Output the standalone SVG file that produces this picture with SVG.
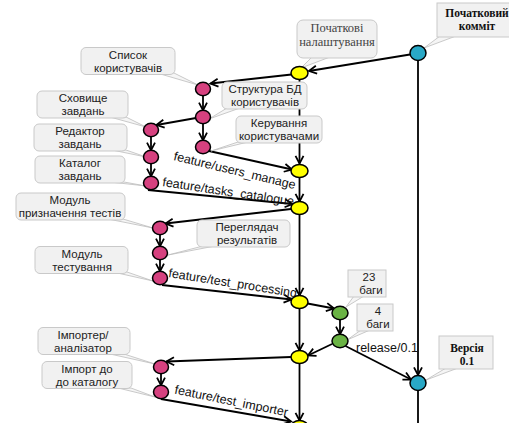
<svg xmlns="http://www.w3.org/2000/svg" width="509" height="423" viewBox="0 0 509 423">
<style>
.e{fill:none;stroke:#000;stroke-width:1.8}
.box{fill:#f1f1f1;stroke:#c9c9c9;stroke-width:1}
.lead{fill:#f5f5f5;stroke:#bcbcbc;stroke-width:0.8}
.t{font-family:"Liberation Sans",Arial,sans-serif;font-size:11.5px;fill:#222;text-anchor:middle}
.ts{font-family:"Liberation Serif","Times New Roman",serif;font-size:12.5px;fill:#444;text-anchor:middle}
.tb{font-family:"Liberation Serif","Times New Roman",serif;font-size:11.5px;font-weight:bold;fill:#111;text-anchor:middle}
.lbl{font-family:"Liberation Sans",Arial,sans-serif;font-size:12.5px;fill:#111}
.y{fill:#ffff00;stroke:#000;stroke-width:1.5}
.p{fill:#d6417f;stroke:#000;stroke-width:1.5}
.g{fill:#6ab344;stroke:#000;stroke-width:1.5}
.c{fill:#29a8c6;stroke:#000;stroke-width:1.5}
</style>
<defs>
<marker id="arr" viewBox="0 0 10 10" refX="8.6" refY="5" markerWidth="10" markerHeight="10" markerUnits="userSpaceOnUse" orient="auto" overflow="visible">
<path d="M1,1 L8.6,5 L1,9" fill="none" stroke="#000" stroke-width="1.8"/>
</marker>
</defs>
<rect width="509" height="423" fill="#fff"/>
<g id="connectors">
<path class="e" marker-end="url(#arr)" d="M410,54.5 L309,71"/>
<path class="e" marker-end="url(#arr)" d="M418,60.5 L418,375"/>
<path class="e" d="M418,390.5 L418,423"/>
<path class="e" marker-end="url(#arr)" d="M291.5,74.5 L210.5,83.5"/>
<path class="e" marker-end="url(#arr)" d="M299.5,79.5 L299.5,163.5"/>
<path class="e" marker-end="url(#arr)" d="M203,95.7 L203,110.3"/>
<path class="e" marker-end="url(#arr)" d="M203,123.7 L203,140.3"/>
<path class="e" marker-end="url(#arr)" d="M196,118 L156.5,125"/>
<path class="e" marker-end="url(#arr)" d="M151,136.7 L151,150.3"/>
<path class="e" marker-end="url(#arr)" d="M151,163.7 L151,176.3"/>
<path class="e" marker-end="url(#arr)" d="M209,151 L292,169.5"/>
<path class="e" marker-end="url(#arr)" d="M299.5,177.5 L299.5,201.5"/>
<path class="e" marker-end="url(#arr)" d="M148,190 L292.5,204"/>
<path class="e" marker-end="url(#arr)" d="M291,209 L165.5,223.5"/>
<path class="e" marker-end="url(#arr)" d="M160,234.7 L160,246.3"/>
<path class="e" marker-end="url(#arr)" d="M160,259.7 L160,271.3"/>
<path class="e" marker-end="url(#arr)" d="M299.5,214.5 L299.5,295.5"/>
<path class="e" marker-end="url(#arr)" d="M162,285 L291.5,299.5"/>
<path class="e" marker-end="url(#arr)" d="M307.5,303.5 L334,308.5"/>
<path class="e" marker-end="url(#arr)" d="M340,319.7 L340,334.3"/>
<path class="e" marker-end="url(#arr)" d="M332,344 L308,355.5"/>
<path class="e" marker-end="url(#arr)" d="M345.5,346 L411,379.5"/>
<path class="e" marker-end="url(#arr)" d="M299.5,308.5 L299.5,350.5"/>
<path class="e" marker-end="url(#arr)" d="M291,357 L166.5,361.5"/>
<path class="e" marker-end="url(#arr)" d="M161,373.7 L161,385.3"/>
<path class="e" marker-end="url(#arr)" d="M161,399 L291,421.5"/>
<path class="e" marker-end="url(#arr)" d="M299.5,363.5 L299.5,420.5"/>
<text class="lbl" transform="translate(173,160) rotate(13.5)">feature/users_manage</text>
<text class="lbl" transform="translate(162,186) rotate(8.5)">feature/tasks_catalogue</text>
<text class="lbl" transform="translate(168,277) rotate(9)">feature/test_processing</text>
<text class="lbl" transform="translate(174,393.5) rotate(11.5)">feature/test_importer</text>
<text class="lbl" x="356" y="351.5">release/0.1</text>
</g>
<g id="callout-initial-settings">
<polygon class="lead" points="312,57 330,57 301,68"/>
<rect class="box" x="297" y="20" width="80" height="38" rx="6"/>
<text class="ts" x="337" y="32">Початкові</text>
<text class="ts" x="337" y="46">налаштування</text>
</g>
<g id="callout-initial-commit">
<polygon class="lead" points="440,36 456,36 424,48"/>
<rect class="box" x="437" y="3" width="76" height="34"/>
<text class="tb" x="477" y="16.5">Початковий</text>
<text class="tb" x="477" y="29.5">комміт</text>
</g>
<g id="callout-users-list">
<polygon class="lead" points="157,73 174,73 198,85"/>
<rect class="box" x="81" y="47.5" width="94" height="27" rx="5"/>
<text class="t" x="128" y="58.5">Список</text>
<text class="t" x="128" y="71.5">користувачів</text>
</g>
<g id="callout-db-structure">
<polygon class="lead" points="227,108 240,108 209,119"/>
<rect class="box" x="222" y="82" width="85" height="27" rx="5"/>
<text class="t" x="265" y="93">Структура БД</text>
<text class="t" x="265" y="106">користувачів</text>
</g>
<g id="callout-users-manage">
<polygon class="lead" points="238,142 248,142 211,151"/>
<rect class="box" x="236" y="116" width="86" height="27" rx="5"/>
<text class="t" x="279" y="127">Керування</text>
<text class="t" x="279" y="140">користувачами</text>
</g>
<g id="callout-tasks-storage">
<polygon class="lead" points="110,117 126,117 146,127"/>
<rect class="box" x="37" y="91" width="91" height="27" rx="5"/>
<text class="t" x="83" y="102">Сховище</text>
<text class="t" x="83" y="115">завдань</text>
</g>
<g id="callout-tasks-editor">
<polygon class="lead" points="112,150 126,150 146,157"/>
<rect class="box" x="34" y="124" width="93" height="27" rx="5"/>
<text class="t" x="80" y="135">Редактор</text>
<text class="t" x="80" y="148">завдань</text>
</g>
<g id="callout-tasks-catalogue">
<polygon class="lead" points="110,182 124,182 146,186"/>
<rect class="box" x="35" y="156" width="90" height="27" rx="5"/>
<text class="t" x="80" y="167">Каталог</text>
<text class="t" x="80" y="180">завдань</text>
</g>
<g id="callout-test-assign">
<polygon class="lead" points="108,219 123,219 153,228"/>
<rect class="box" x="16" y="193" width="109" height="27" rx="5"/>
<text class="t" x="70" y="204">Модуль</text>
<text class="t" x="70" y="217">призначення тестів</text>
</g>
<g id="callout-results-viewer">
<polygon class="lead" points="203,246 215,246 168,255"/>
<rect class="box" x="197" y="220" width="93" height="27" rx="5"/>
<text class="t" x="247" y="231">Переглядач</text>
<text class="t" x="247" y="244">результатів</text>
</g>
<g id="callout-testing-module">
<polygon class="lead" points="113,272 127,272 153,281"/>
<rect class="box" x="35" y="246.5" width="93" height="27" rx="5"/>
<text class="t" x="82" y="257.5">Модуль</text>
<text class="t" x="82" y="270.5">тестування</text>
</g>
<g id="callout-bugs-23">
<polygon class="lead" points="354,296 364,296 346,307"/>
<rect class="box" x="348" y="270" width="38" height="27"/>
<text class="t" x="369" y="280.5">23</text>
<text class="t" x="371" y="293.5">баги</text>
</g>
<g id="callout-bugs-4">
<polygon class="lead" points="361,330 370,330 347,340"/>
<rect class="box" x="357" y="304" width="36" height="27"/>
<text class="t" x="378" y="314.5">4</text>
<text class="t" x="378" y="327.5">баги</text>
</g>
<g id="callout-version">
<polygon class="lead" points="446,368 458,368 426,380"/>
<rect class="box" x="439" y="336" width="54" height="33"/>
<text class="tb" x="467" y="351.5">Версія</text>
<text class="tb" x="467" y="364.5">0.1</text>
</g>
<g id="callout-importer">
<polygon class="lead" points="110,354 124,354 155,364"/>
<rect class="box" x="38" y="327.5" width="92" height="27" rx="5"/>
<text class="t" x="83" y="338.5">Імпортер/</text>
<text class="t" x="83" y="351.5">аналізатор</text>
</g>
<g id="callout-import">
<polygon class="lead" points="118,388 131,388 155,397"/>
<rect class="box" x="42" y="361.5" width="90" height="27" rx="5"/>
<text class="t" x="87" y="372.5">Імпорт до</text>
<text class="t" x="87" y="385.5">до каталогу</text>
</g>
<g id="n-c1"><ellipse class="c" cx="418" cy="53" rx="8" ry="7.5"/></g>
<g id="n-y1"><ellipse class="y" cx="299.5" cy="73" rx="8.5" ry="6.5"/></g>
<g id="n-p1"><ellipse class="p" cx="203" cy="89" rx="7.5" ry="6.7"/></g>
<g id="n-p2"><ellipse class="p" cx="203" cy="117" rx="7.5" ry="6.7"/></g>
<g id="n-p3"><ellipse class="p" cx="203" cy="147" rx="7.5" ry="6.7"/></g>
<g id="n-p4"><ellipse class="p" cx="151" cy="130" rx="7.5" ry="6.7"/></g>
<g id="n-p5"><ellipse class="p" cx="151" cy="157" rx="7.5" ry="6.7"/></g>
<g id="n-p6"><ellipse class="p" cx="151" cy="183" rx="7.5" ry="6.7"/></g>
<g id="n-y2"><ellipse class="y" cx="299.5" cy="171" rx="8.5" ry="6.5"/></g>
<g id="n-y3"><ellipse class="y" cx="299.5" cy="208" rx="8.5" ry="6.5"/></g>
<g id="n-p7"><ellipse class="p" cx="160" cy="228" rx="7.5" ry="6.7"/></g>
<g id="n-p8"><ellipse class="p" cx="160" cy="253" rx="7.5" ry="6.7"/></g>
<g id="n-p9"><ellipse class="p" cx="160" cy="278" rx="7.5" ry="6.7"/></g>
<g id="n-y4"><ellipse class="y" cx="299.5" cy="302" rx="8.5" ry="6.5"/></g>
<g id="n-g1"><ellipse class="g" cx="340" cy="313" rx="8" ry="6.7"/></g>
<g id="n-g2"><ellipse class="g" cx="340" cy="341" rx="8" ry="6.7"/></g>
<g id="n-y5"><ellipse class="y" cx="299.5" cy="357" rx="8.5" ry="6.5"/></g>
<g id="n-c2"><ellipse class="c" cx="418" cy="383" rx="8" ry="7.5"/></g>
<g id="n-p10"><ellipse class="p" cx="161" cy="367" rx="7.5" ry="6.7"/></g>
<g id="n-p11"><ellipse class="p" cx="161" cy="392" rx="7.5" ry="6.7"/></g>
<g id="n-y6"><ellipse class="y" cx="299.5" cy="427" rx="8.5" ry="6.5"/></g>
</svg>
